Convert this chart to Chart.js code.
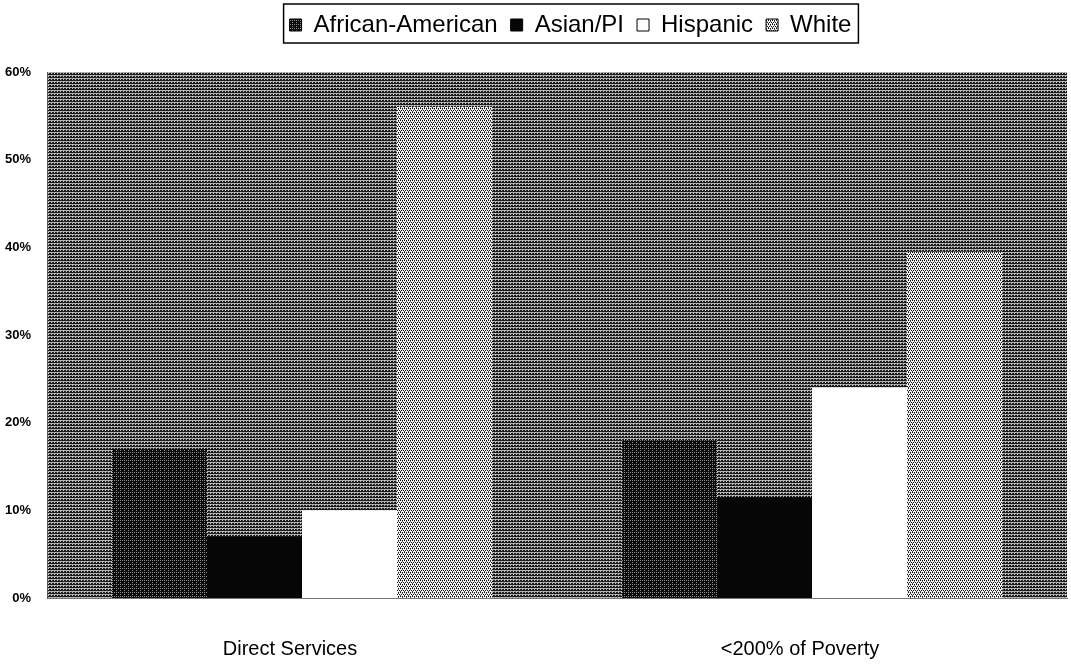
<!DOCTYPE html>
<html>
<head>
<meta charset="utf-8">
<script src="https://cdn.jsdelivr.net/npm/chart.js@4.4.1/dist/chart.umd.min.js"></script>
<style>
  html, body { margin: 0; padding: 0; background: #ffffff; }
  #wrap { width: 1071px; height: 670px; }
</style>
</head>
<body>
<div id="wrap"><canvas id="c" width="1071" height="670"></canvas></div>
<script>
// Share of each group, in percent
const categories = ['Direct Services', '<200% of Poverty'];
const seriesNames = ['African-American', 'Asian/PI', 'Hispanic', 'White'];
const africanAmerican = [17, 18];
const asianPI = [7, 11.5];
const hispanic = [10, 24];
const white = [56, 39.5];
const yTicks = [0, 10, 20, 30, 40, 50, 60];

const canvas = document.getElementById('c');
const ctx = canvas.getContext('2d');

// Small repeating tiles that give the halftone look of the fills
function tilePattern(size, base, dots) {
  const t = document.createElement('canvas');
  t.width = size; t.height = size;
  const g = t.getContext('2d');
  g.fillStyle = base;
  g.fillRect(0, 0, size, size);
  dots.forEach(([x, y, col]) => { g.fillStyle = col; g.fillRect(x, y, 1, 1); });
  return ctx.createPattern(t, 'repeat');
}

const plotFill = tilePattern(3, '#1c1c1c', [
  [0, 0, '#bdbdbd'], [1, 0, '#bdbdbd'], [2, 0, '#9a9a9a'], [0, 1, '#bdbdbd']
]);
const aaFill = tilePattern(4, '#0c0c0c', [
  [0, 0, '#8a8a8a'], [2, 0, '#8a8a8a'], [0, 2, '#8a8a8a']
]);
const asianFill = '#060606';
const hispFill = '#ffffff';
const whiteFill = tilePattern(4, '#f2f2f2', [
  [0, 0, '#111'], [2, 0, '#111'], [1, 2, '#111'], [3, 2, '#111'], [0, 3, '#444'], [2, 1, '#666']
]);

const fills = [aaFill, asianFill, hispFill, whiteFill];
const values = [africanAmerican, asianPI, hispanic, white];

// Grey plot area behind the bars
const plotBackground = {
  id: 'plotBackground',
  beforeDraw(chart) {
    const a = chart.chartArea;
    const c = chart.ctx;
    c.save();
    c.fillStyle = plotFill;
    c.fillRect(a.left, a.top, a.right - a.left, a.bottom - a.top);
    c.restore();
  }
};

// Legend: fixed band height, nudged right, framed by a thin box
const legendLayout = {
  id: 'legendLayout',
  beforeInit(chart) {
    const lg = chart.legend;
    const fit = lg.fit;
    lg.fit = function () { fit.call(this); this.height = 72; };
  },
  afterLayout(chart) {
    const lg = chart.legend;
    lg.left += 37; lg.right += 37;
  },
  afterDraw(chart) {
    const boxes = chart.legend.legendHitBoxes;
    if (!boxes || !boxes.length) return;
    const first = boxes[0], last = boxes[boxes.length - 1];
    const c = chart.ctx;
    c.save();
    c.strokeStyle = '#000';
    c.lineWidth = 1.5;
    const x0 = first.left - 6, x1 = last.left + last.width + 7;
    const y0 = first.top - 9, y1 = first.top + first.height + 6;
    c.strokeRect(x0, y0, x1 - x0, y1 - y0);
    c.restore();
  }
};

new Chart(ctx, {
  type: 'bar',
  data: {
    labels: categories,
    datasets: seriesNames.map((name, i) => ({
      label: name,
      data: values[i],
      backgroundColor: fills[i],
      borderWidth: 0,
      categoryPercentage: 0.745,
      barPercentage: 1.0
    }))
  },
  options: {
    responsive: false,
    animation: false,
    devicePixelRatio: 1,
    layout: { padding: { left: 0, right: 4, top: 0, bottom: 0 } },
    plugins: {
      tooltip: { enabled: false },
      legend: {
        position: 'top',
        labels: {
          color: '#000',
          font: { family: '"Liberation Sans", Arial, sans-serif', size: 24 },
          boxWidth: 12,
          boxHeight: 12,
          padding: 13,
          generateLabels(chart) {
            return chart.data.datasets.map((ds, i) => ({
              text: ds.label,
              fillStyle: ds.backgroundColor,
              strokeStyle: '#000',
              lineWidth: 1,
              hidden: false,
              datasetIndex: i,
              fontColor: '#000'
            }));
          }
        }
      }
    },
    scales: {
      x: {
        grid: { display: false },
        border: { display: true, color: '#777', dash: [1, 2] },
        ticks: {
          color: '#000',
          padding: 31,
          labelOffset: -12,
          maxRotation: 0,
          font: { family: '"Liberation Sans", Arial, sans-serif', size: 20 }
        },
        afterFit(scale) { scale.height = 72; }
      },
      y: {
        min: yTicks[0],
        max: yTicks[yTicks.length - 1],
        afterBuildTicks(scale) { scale.ticks = yTicks.map(v => ({ value: v })); },
        grid: { display: false },
        border: { display: true, color: '#555', dash: [1, 2] },
        ticks: {
          color: '#000',
          padding: 8,
          font: { family: '"Liberation Sans", Arial, sans-serif', size: 13, weight: 'bold' },
          callback: v => v + '%'
        },
        afterFit(scale) { scale.width = 47; }
      }
    }
  },
  plugins: [plotBackground, legendLayout]
});
</script>
</body>
</html>
